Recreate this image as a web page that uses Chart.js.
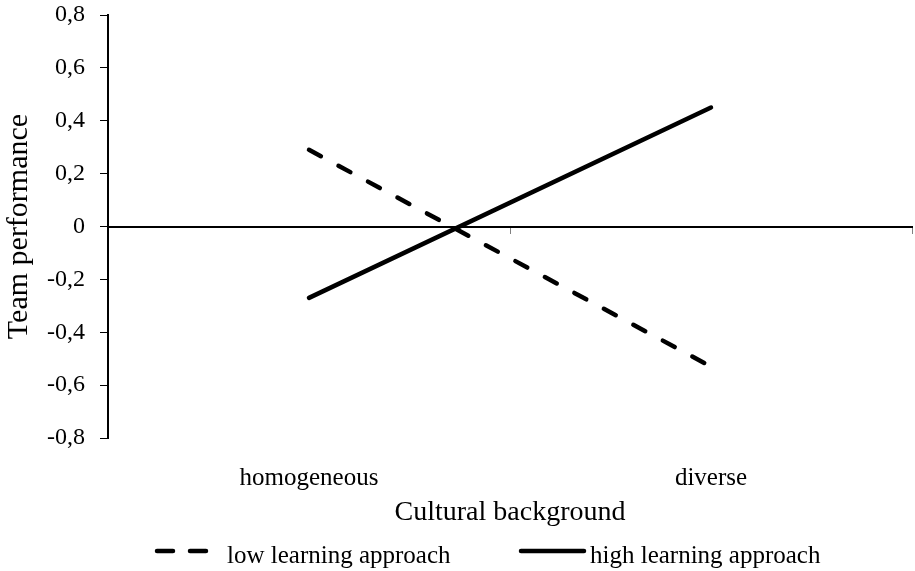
<!DOCTYPE html>
<html>
<head>
<meta charset="utf-8">
<script src="https://cdn.jsdelivr.net/npm/chart.js@4.4.1/dist/chart.umd.min.js"></script>
<style>
  html, body { margin: 0; padding: 0; background: #fff; }
  #wrap { width: 915px; height: 571px; }
</style>
</head>
<body>
<div id="wrap"><canvas id="c" width="915" height="571"></canvas></div>
<script>
// ---- data ----
const categories = ['homogeneous', 'diverse'];
const seriesNames = ['low learning approach', 'high learning approach'];
const lowLearning = [0.29, -0.53];
const highLearning = [-0.27, 0.45];
const yTickValues = [-0.8, -0.6, -0.4, -0.2, 0, 0.2, 0.4, 0.6, 0.8];
const yTickLabels = ['-0,8', '-0,6', '-0,4', '-0,2', '0', '0,2', '0,4', '0,6', '0,8'];
const xTitle = 'Cultural background';
const yTitle = 'Team performance';

const FONT = "'Liberation Serif', 'Times New Roman', serif";
Chart.defaults.font.family = FONT;
Chart.defaults.color = '#000';

const legendPlugin = {
  id: 'bottomLegend',
  afterDraw(chart) {
    const ctx = chart.ctx;
    ctx.save();
    ctx.font = '25px ' + FONT;
    ctx.fillStyle = '#000';
    ctx.textBaseline = 'alphabetic';
    ctx.textAlign = 'left';
    const lineY = 551, textY = 563;
    const items = [
      { x0: 157, x1: 206, tx: 227, dash: [16, 17], w: 4.5 },
      { x0: 521, x1: 584, tx: 590, dash: [], w: 4.5 }
    ];
    chart.data.datasets.forEach((ds, i) => {
      const it = items[i];
      ctx.beginPath();
      ctx.strokeStyle = ds.borderColor;
      ctx.lineWidth = it.w;
      ctx.lineCap = 'round';
      ctx.setLineDash(it.dash);
      ctx.moveTo(it.x0, lineY);
      ctx.lineTo(it.x1, lineY);
      ctx.stroke();
      ctx.setLineDash([]);
      ctx.fillText(ds.label, it.tx, textY);
    });
    ctx.restore();
  }
};

new Chart(document.getElementById('c'), {
  type: 'line',
  data: {
    labels: categories,
    datasets: [
      {
        label: seriesNames[0],
        data: lowLearning,
        borderColor: '#000',
        borderWidth: 4.5,
        borderDash: [13.5, 20],
        borderCapStyle: 'round',
        pointRadius: 0,
        fill: false,
        tension: 0
      },
      {
        label: seriesNames[1],
        data: highLearning,
        borderColor: '#000',
        borderWidth: 4.5,
        borderCapStyle: 'round',
        pointRadius: 0,
        fill: false,
        tension: 0
      }
    ]
  },
  options: {
    responsive: false,
    devicePixelRatio: 1,
    animation: false,
    layout: { padding: { top: 15, right: 3, bottom: 0, left: 0 } },
    plugins: {
      legend: { display: false },
      tooltip: { enabled: false }
    },
    scales: {
      x: {
        type: 'category',
        position: 'bottom',
        offset: true,
        grid: { display: false, drawTicks: false },
        border: { display: false },
        ticks: { font: { size: 25 }, padding: 25, maxRotation: 0, color: '#000' },
        title: { display: true, text: xTitle, font: { size: 28 }, color: '#000', padding: { top: 0, bottom: 42 } },
        afterFit(scale) { scale.height = 133; }
      },
      x0: {
        type: 'category',
        position: { y: 0 },
        offset: true,
        grid: { display: true, offset: true, drawOnChartArea: false, drawTicks: true, tickLength: 6, tickColor: '#808080', tickWidth: 1 },
        border: { display: true, color: '#000', width: 2 },
        ticks: { display: false },
        afterFit(scale) { scale.height = 0; scale.paddingTop = 0; scale.paddingBottom = 0; }
      },
      y: {
        type: 'linear',
        position: 'left',
        min: -0.8,
        max: 0.8,
        grid: { display: true, drawOnChartArea: false, drawTicks: true, tickLength: 8, tickColor: '#000', tickWidth: 1 },
        border: { display: true, color: '#000', width: 2 },
        ticks: {
          stepSize: 0.2,
          padding: 15,
          font: { size: 24, lineHeight: 1.25 },
          color: '#000',
          callback(v) {
            const i = yTickValues.findIndex(t => Math.abs(t - v) < 1e-9);
            return i >= 0 ? yTickLabels[i] : '';
          }
        },
        title: { display: true, text: yTitle, font: { size: 30 }, color: '#000', padding: { top: 1, bottom: 0 } },
        afterFit(scale) { scale.width = 108; scale.paddingTop = 0; scale.paddingBottom = 0; }
      }
    }
  },
  plugins: [legendPlugin]
});
</script>
</body>
</html>
